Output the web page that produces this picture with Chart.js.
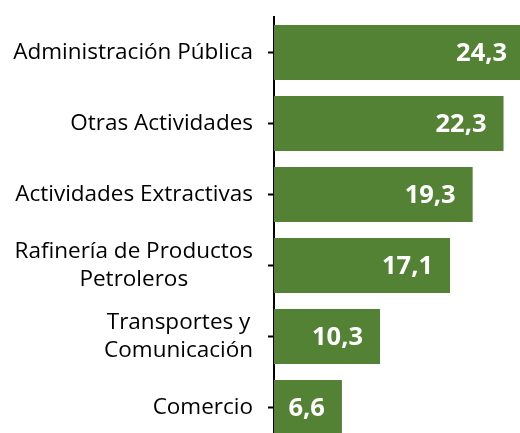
<!DOCTYPE html>
<html>
<head>
<meta charset="utf-8">
<script src="https://cdn.jsdelivr.net/npm/chart.js@4"></script>
<style>
    html, body { margin: 0; padding: 0; background: #fff; overflow: hidden; }
    #wrap { position: relative; width: 520px; height: 443px; }
</style>
</head>
<body>
<div id="wrap"><canvas id="chart"></canvas></div>
<script>
// Chart data
const categories = [
    'Administración Pública',
    'Otras Actividades',
    'Actividades Extractivas',
    ['Rafinería de Productos', 'Petroleros'],
    ['Transportes y', 'Comunicación'],
    'Comercio'
];
const values = [24.3, 22.3, 19.3, 17.1, 10.3, 6.6];

const barColor = '#548235';
const labelFont = '22.5px "Open Sans", sans-serif';
const valueFont = 'bold 25.5px "Open Sans", sans-serif';

// Category labels: single lines right aligned, wrapped lines centred in their block
const categoryLabels = {
    id: 'categoryLabels',
    afterDraw(chart) {
        const ctx = chart.ctx;
        const yScale = chart.scales.y;
        const right = chart.chartArea.left - 21;
        const lineH = 28;
        ctx.save();
        ctx.font = labelFont;
        ctx.fillStyle = '#000';
        ctx.textBaseline = 'middle';
        categories.forEach((cat, i) => {
            const lines = Array.isArray(cat) ? cat : [cat];
            const widths = lines.map(l => ctx.measureText(l).width);
            const maxW = Math.max(...widths);
            const cy = yScale.getPixelForValue(i);
            lines.forEach((line, j) => {
                const y = cy + (j - (lines.length - 1) / 2) * lineH;
                ctx.textAlign = 'center';
                ctx.fillText(line, right - maxW / 2, y);
            });
        });
        ctx.restore();
    }
};

// Value labels inside bar ends
const valueLabels = {
    id: 'valueLabels',
    afterDatasetsDraw(chart) {
        const ctx = chart.ctx;
        const meta = chart.getDatasetMeta(0);
        ctx.save();
        ctx.font = valueFont;
        ctx.fillStyle = '#fff';
        ctx.textAlign = 'right';
        ctx.textBaseline = 'middle';
        meta.data.forEach((bar, i) => {
            const txt = values[i].toFixed(1).replace('.', ',');
            ctx.fillText(txt, bar.x - 17, bar.y + 1);
        });
        ctx.restore();
    }
};

new Chart(document.getElementById('chart'), {
    type: 'bar',
    data: {
        labels: categories,
        datasets: [{
            data: values,
            backgroundColor: barColor,
            borderWidth: 0,
            categoryPercentage: 1,
            barPercentage: 0.775
        }]
    },
    options: {
        indexAxis: 'y',
        responsive: true,
        maintainAspectRatio: false,
        animation: false,
        layout: { padding: { top: 17, bottom: 0, left: 0, right: 0 } },
        plugins: {
            legend: { display: false },
            tooltip: { enabled: false }
        },
        scales: {
            x: {
                display: false,
                min: 0,
                max: 23.9
            },
            y: {
                afterFit: scale => { scale.width = 274; },
                ticks: { display: false },
                grid: {
                    offset: false,
                    drawOnChartArea: false,
                    drawTicks: true,
                    tickLength: 6,
                    tickWidth: 2,
                    tickColor: '#000'
                },
                border: { display: true, color: '#000', width: 2 }
            }
        }
    },
    plugins: [categoryLabels, valueLabels]
});
</script>
</body>
</html>
